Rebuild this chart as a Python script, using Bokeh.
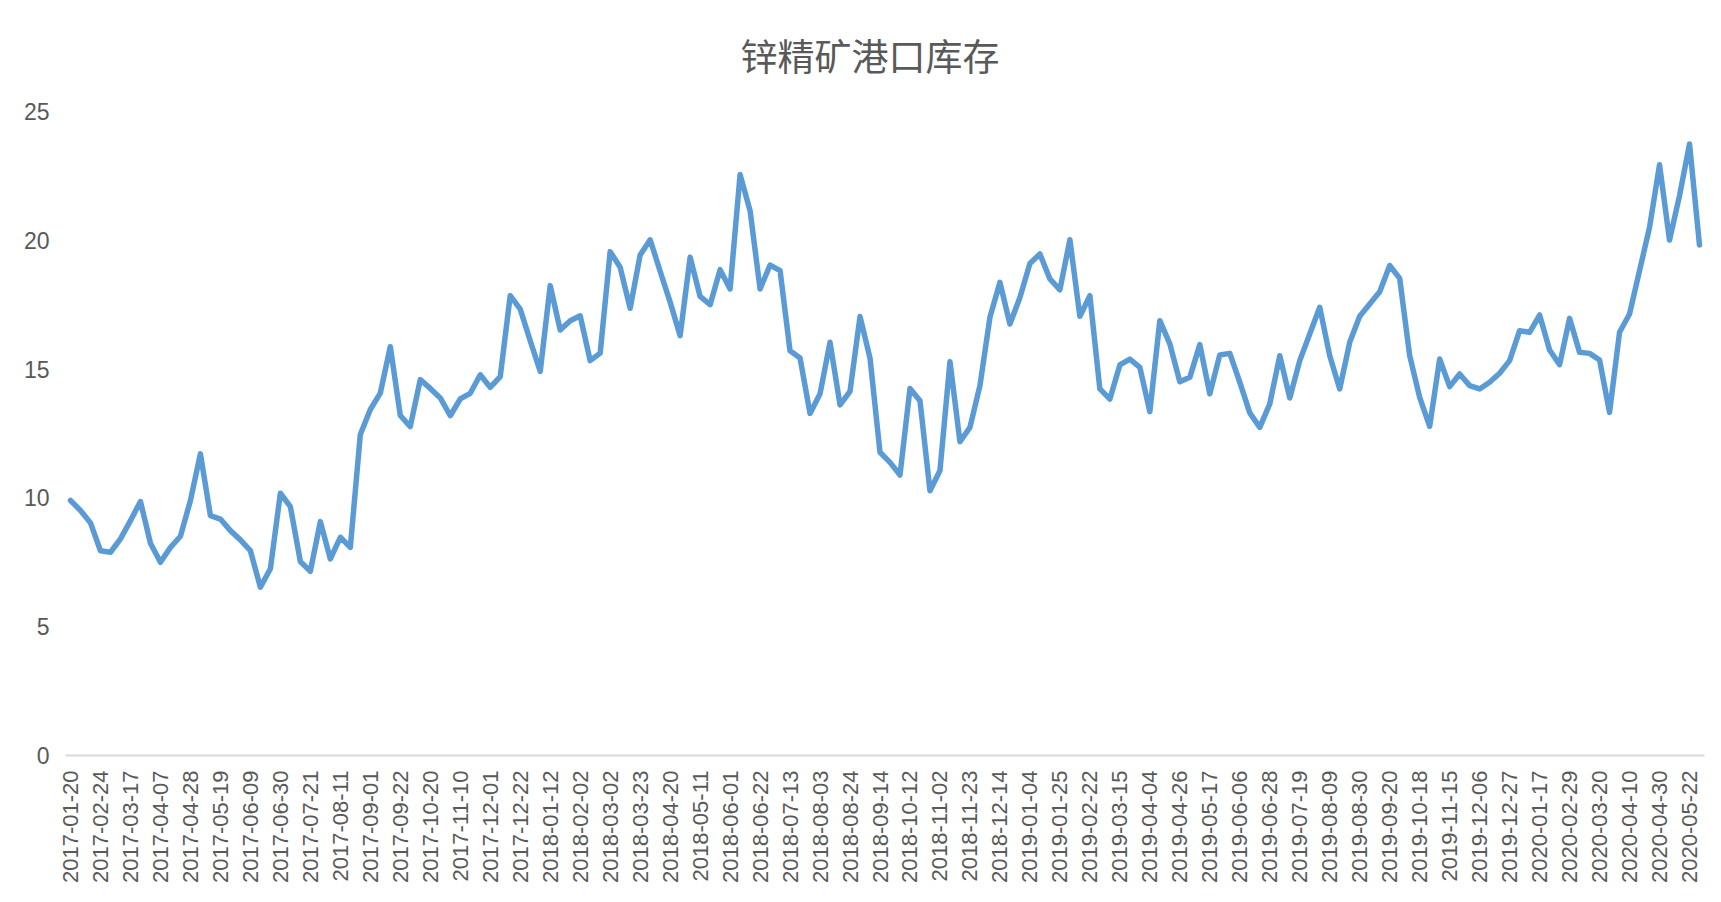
import math
from bokeh.plotting import figure
from bokeh.models import Range1d, FixedTicker
from bokeh.embed import file_html
from bokeh.resources import INLINE

title_text = "锌精矿港口库存"

# weekly zinc concentrate port inventory (万吨)
inventory = [
    9.90, 9.51, 9.03, 7.95, 7.89, 8.41, 9.12, 9.86, 8.24, 7.50,
    8.08, 8.51, 9.90, 11.71, 9.31, 9.18, 8.73, 8.37, 7.95, 6.53,
    7.25, 10.18, 9.66, 7.53, 7.15, 9.08, 7.63, 8.47, 8.08, 12.46,
    13.43, 14.07, 15.87,
    13.20, 12.77, 14.59, 14.25, 13.88, 13.19, 13.84, 14.06, 14.78, 14.29,
    14.71, 17.85, 17.33, 16.10, 14.91, 18.24, 16.52, 16.88, 17.07, 15.33,
    15.62, 19.56, 18.95, 17.36, 19.43, 20.02, 18.80, 17.60, 16.30, 19.34,
    17.82, 17.50, 18.86, 18.11,
    22.55, 21.15, 18.11, 19.04, 18.82, 15.71, 15.43, 13.28, 14.04, 16.04,
    13.61, 14.14, 17.04, 15.43, 11.77, 11.38, 10.89, 14.25, 13.77, 10.28,
    11.06, 15.29, 12.18, 12.74, 14.36, 17.01, 18.37, 16.75, 17.78, 19.10,
    19.47, 18.50, 18.08,
    20.02, 17.05, 17.85, 14.23, 13.84, 15.16, 15.39, 15.07, 13.35, 16.88,
    15.98, 14.51, 14.68, 15.95, 14.04, 15.55, 15.61, 14.49, 13.30, 12.74,
    13.65, 15.52, 13.88, 15.33, 16.36, 17.40, 15.52, 14.23, 16.04, 17.05,
    17.53, 18.00,
    19.02, 18.52, 15.52, 13.90, 12.78, 15.39, 14.32, 14.81, 14.36, 14.23,
    14.49, 14.84, 15.33, 16.49, 16.43, 17.10, 15.74, 15.17, 16.97, 15.65,
    15.61, 15.35, 13.32, 16.43, 17.14, 18.82, 20.50, 22.93, 20.01, 21.73,
    23.74, 19.82,
]

# category labels shown on the axis (every third week)
tick_labels = [
    "2017-01-20", "2017-02-24", "2017-03-17", "2017-04-07", "2017-04-28",
    "2017-05-19", "2017-06-09", "2017-06-30", "2017-07-21", "2017-08-11",
    "2017-09-01", "2017-09-22", "2017-10-20", "2017-11-10", "2017-12-01",
    "2017-12-22", "2018-01-12", "2018-02-02", "2018-03-02", "2018-03-23",
    "2018-04-20", "2018-05-11", "2018-06-01", "2018-06-22", "2018-07-13",
    "2018-08-03", "2018-08-24", "2018-09-14", "2018-10-12", "2018-11-02",
    "2018-11-23", "2018-12-14", "2019-01-04", "2019-01-25", "2019-02-22",
    "2019-03-15", "2019-04-04", "2019-04-26", "2019-05-17", "2019-06-06",
    "2019-06-28", "2019-07-19", "2019-08-09", "2019-08-30", "2019-09-20",
    "2019-10-18", "2019-11-15", "2019-12-06", "2019-12-27", "2020-01-17",
    "2020-02-29", "2020-03-20", "2020-04-10", "2020-04-30", "2020-05-22",
]
label_step = 3
y_ticks = [0, 5, 10, 15, 20, 25]

x_idx = list(range(len(inventory)))
tick_pos = [label_step * k for k in range(len(tick_labels))]

p = figure(
    width=1713, height=894,
    output_backend="svg", toolbar_location=None,
    x_range=Range1d(-0.5, len(inventory) - 0.5),
    y_range=Range1d(0, 25),
    min_border_left=65, min_border_right=9,
    min_border_top=111, min_border_bottom=139,
)

p.title.text = title_text
p.title.align = "left"
p.title.vertical_align = "top"
p.title.text_font = "Noto Sans CJK SC"
p.title.text_font_size = "37px"
p.title.text_font_style = "normal"
p.title.text_color = "#595959"
p.title.standoff = 55
p.title.offset = 675

p.line(x_idx, inventory, line_color="#5B9BD5", line_width=5.5,
       line_join="round", line_cap="round")

p.xgrid.visible = False
p.ygrid.visible = False
p.outline_line_color = None

xa = p.xaxis[0]
xa.ticker = FixedTicker(ticks=tick_pos)
xa.major_label_overrides = {t: lab for t, lab in zip(tick_pos, tick_labels)}
xa.major_label_orientation = math.pi / 2
xa.major_label_text_font = "Liberation Sans"
xa.major_label_text_font_size = "22px"
xa.major_label_text_color = "#595959"
xa.major_label_standoff = 15
xa.major_tick_out = 0
xa.major_tick_in = 0
xa.minor_tick_out = 0
xa.minor_tick_in = 0
xa.axis_line_color = "#D9D9D9"
xa.axis_line_width = 2
xa.major_tick_line_color = None
xa.minor_tick_line_color = None

ya = p.yaxis[0]
ya.ticker = FixedTicker(ticks=y_ticks)
ya.major_label_text_font = "Liberation Sans"
ya.major_label_text_font_size = "23px"
ya.major_label_text_color = "#595959"
ya.major_label_standoff = 16
ya.major_tick_out = 0
ya.major_tick_in = 0
ya.minor_tick_out = 0
ya.minor_tick_in = 0
ya.axis_line_color = None
ya.major_tick_line_color = None
ya.minor_tick_line_color = None

open("out.html", "w").write(file_html(p, INLINE))
